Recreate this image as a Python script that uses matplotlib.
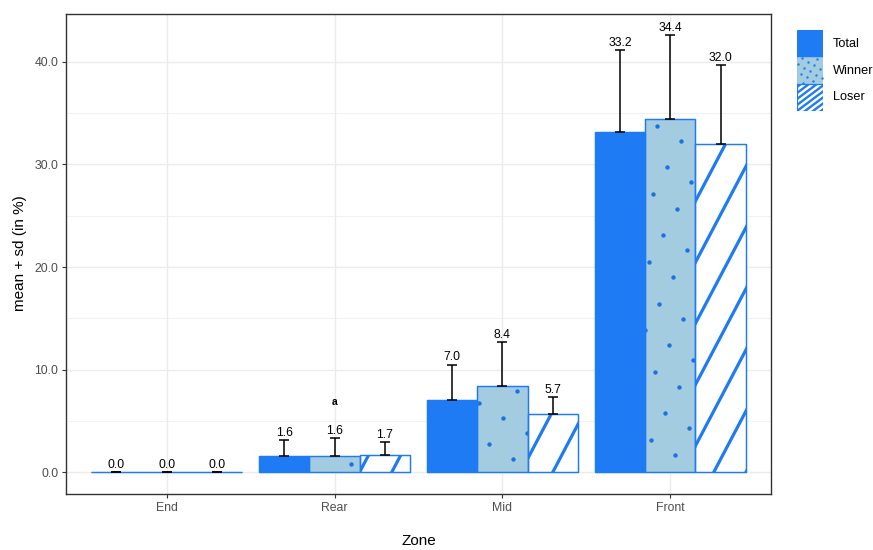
import matplotlib
matplotlib.use('Agg')
import matplotlib.pyplot as plt
import numpy as np
from matplotlib.patches import Rectangle

plt.rcParams['font.family'] = ['Liberation Sans', 'DejaVu Sans']

# ---------------- data ----------------
zones = ['End', 'Rear', 'Mid', 'Front']
groups = ['Total', 'Winner', 'Loser']
total_mean = [0.0, 1.6, 7.0, 33.2]
total_sd = [0.0, 1.55, 3.5, 7.9]
winner_mean = [0.0, 1.6, 8.4, 34.4]
winner_sd = [0.0, 1.7, 4.3, 8.2]
loser_mean = [0.0, 1.7, 5.7, 32.0]
loser_sd = [0.0, 1.25, 1.6, 7.7]
sig_labels = ['', 'a', '', '']
sig_y = [0.0, 6.85, 0.0, 0.0]
y_ticks = [0.0, 10.0, 20.0, 30.0, 40.0]

# ---------------- style ----------------
BLUE = '#1F7BF4'
LIGHT = '#A3CCE0'
W, H, DPI = 873, 550, 100

fig = plt.figure(figsize=(W / DPI, H / DPI), dpi=DPI)
ax = fig.add_axes([66 / W, 1 - 494 / H, (771 - 66) / W, (494 - 13.5) / H])
XLIM = (0.4, 4.6)
YLIM = (-2.11, 44.7)
ax.set_xlim(*XLIM)
ax.set_ylim(*YLIM)

x = np.arange(1, len(zones) + 1)
bw = 0.3
series = [
    (total_mean, total_sd, -bw, BLUE),
    (winner_mean, winner_sd, 0.0, LIGHT),
    (loser_mean, loser_sd, bw, 'white'),
]

bar_sets = []
for means, sds, off, fc in series:
    bars = ax.bar(x + off, means, bw, color=fc, edgecolor=BLUE, linewidth=0.9, zorder=2)
    bar_sets.append(bars)

inv = ax.transData.inverted()

# ---- dotted pattern for Winner (global lattice in pixel space) ----
a_vec = np.array([24.0, -15.0])
b_vec = np.array([-14.0, -26.5])
anchor = np.array([673.0, H - 277.0])
mm, nn = np.meshgrid(np.arange(-60, 61), np.arange(-60, 61))
pts = anchor + mm.ravel()[:, None] * a_vec + nn.ravel()[:, None] * b_vec
pts = pts[(pts[:, 0] > 0) & (pts[:, 0] < W) & (pts[:, 1] > 0) & (pts[:, 1] < H)]
pts_data = inv.transform(pts)
for bar in bar_sets[1]:
    bx0, by0 = bar.get_x(), bar.get_y()
    bx1, by1 = bx0 + bar.get_width(), by0 + bar.get_height()
    if by1 - by0 <= 0:
        continue
    sel = (pts_data[:, 0] > bx0 - 0.02) & (pts_data[:, 0] < bx1 + 0.02) & \
          (pts_data[:, 1] > by0 - 0.3) & (pts_data[:, 1] < by1 + 0.3)
    sc = ax.scatter(pts_data[sel, 0], pts_data[sel, 1], s=10, color='#1E6FE0',
                    linewidths=0, zorder=2.2)
    sc.set_clip_path(bar)

# ---- striped pattern for Loser (global, pixel space) ----
slope = 1.9
period = 32.2
y0_disp = ax.transData.transform((0, 0))[1]
x_anchor = 552.7
for bar in bar_sets[2]:
    bx0, by0 = bar.get_x(), bar.get_y()
    bx1, by1 = bx0 + bar.get_width(), by0 + bar.get_height()
    if by1 - by0 <= 0:
        continue
    (px0, py0), (px1, py1) = ax.transData.transform([(bx0, by0), (bx1, by1)])
    kmin = int(np.floor((px0 - x_anchor - (py1 - y0_disp) / slope) / period)) - 1
    kmax = int(np.ceil((px1 - x_anchor - (py0 - y0_disp) / slope) / period)) + 1
    for k in range(kmin, kmax + 1):
        xs = x_anchor + k * period
        ya, yb = py0 - 10, py1 + 10
        seg = np.array([(xs + (ya - y0_disp) / slope, ya), (xs + (yb - y0_disp) / slope, yb)])
        sd_ = inv.transform(seg)
        ln, = ax.plot(sd_[:, 0], sd_[:, 1], color=BLUE, lw=2.3, zorder=2.2,
                      solid_capstyle='butt', scalex=False, scaley=False)
        ln.set_clip_path(bar)

# re-draw outlines on top of patterns
for (means, sds, off, fc) in series:
    ax.bar(x + off, means, bw, fill=False, edgecolor=BLUE, linewidth=0.9, zorder=2.4)

# ---- error bars & labels ----
for means, sds, off, fc in series:
    means = np.array(means)
    sds = np.array(sds)
    ax.errorbar(x + off, means, yerr=[np.zeros_like(sds), sds], fmt='none',
                ecolor='black', elinewidth=1.1, capsize=3.6, capthick=1.1, zorder=4)
    for xi, m, s in zip(x + off, means, sds):
        ax.annotate(f'{m:.1f}', (xi, m + s), xytext=(0, 3), textcoords='offset points',
                    ha='center', va='baseline', fontsize=8.7, color='black', zorder=5)

for xi, lab, yv in zip(x, sig_labels, sig_y):
    if lab:
        ax.text(xi, yv, lab, ha='center', va='center', fontsize=7.5,
                fontweight='bold', color='black')

# ---- axes styling ----
ax.set_xticks(x)
ax.set_xticklabels(zones)
ax.set_yticks(y_ticks)
ax.set_yticklabels([f'{v:.1f}' for v in y_ticks])
ax.set_yticks([5, 15, 25, 35], minor=True)
ax.tick_params(which='major', length=3.0, width=0.8, color='#333333',
               labelsize=8.8, labelcolor='#4D4D4D', pad=2.5)
ax.tick_params(which='minor', length=0)
ax.grid(which='major', color='#EBEBEB', lw=1.0)
ax.grid(which='minor', axis='y', color='#EBEBEB', lw=0.5)
ax.set_axisbelow(True)
for sp in ax.spines.values():
    sp.set_color('#333333')
    sp.set_linewidth(1.0)
ax.set_xlim(*XLIM)
ax.set_ylim(*YLIM)

fig.text(20 / W, 1 - 253 / H, 'mean + sd (in %)', rotation=90, ha='center',
         va='center', fontsize=11)
fig.text(418.5 / W, 1 - 541 / H, 'Zone', ha='center', va='center', fontsize=11)

# ---- legend (manual) ----
lax = fig.add_axes([797 / W, 1 - 111 / H, 26 / W, 81 / H])
lax.set_xlim(0, 26)
lax.set_ylim(0, 81)
lax.axis('off')
kh = 27
lax.add_patch(Rectangle((0, 2 * kh), 26, kh, facecolor=BLUE, edgecolor=BLUE, lw=0.8))
rw = Rectangle((0, kh), 26, kh, facecolor=LIGHT, edgecolor='#8EC0E8', lw=0.6)
lax.add_patch(rw)
la = np.array([6.0, -3.5])
lb = np.array([-3.5, -6.0])
lm, ln_ = np.meshgrid(np.arange(-15, 16), np.arange(-15, 16))
lp = np.array([13.0, 40.0]) + lm.ravel()[:, None] * la + ln_.ravel()[:, None] * lb
lp = lp[(lp[:, 0] > 0) & (lp[:, 0] < 26) & (lp[:, 1] > kh) & (lp[:, 1] < 2 * kh)]
dsc = lax.scatter(lp[:, 0], lp[:, 1], s=3, color=BLUE, linewidths=0)
dsc.set_clip_path(rw)
rl = Rectangle((0, 0), 26, kh, facecolor='white', edgecolor=BLUE, lw=0.8)
lax.add_patch(rl)
for k in range(-6, 8):
    yy = np.array([-5, kh + 5])
    xx0 = k * 8.0
    l2, = lax.plot([xx0 + yy[0] / 0.75, xx0 + yy[1] / 0.75], yy, color=BLUE, lw=1.7,
                   solid_capstyle='butt')
    l2.set_clip_path(rl)
lax.add_patch(Rectangle((0, 0), 26, kh, fill=False, edgecolor=BLUE, lw=0.8))
lax.set_xlim(0, 26)
lax.set_ylim(0, 81)

for lab, yc in zip(groups, [44, 70.5, 97.5]):
    fig.text(833 / W, 1 - yc / H, lab, ha='left', va='center', fontsize=9.2)

fig.savefig('out.png', dpi=DPI)
